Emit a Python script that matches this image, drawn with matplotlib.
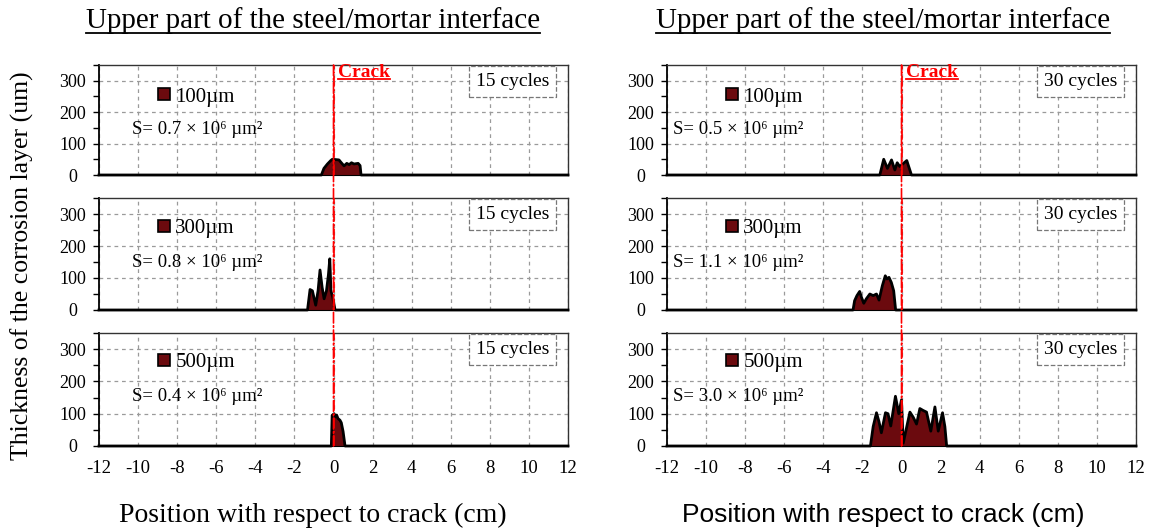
import matplotlib
matplotlib.use("Agg")
import matplotlib.pyplot as plt
from matplotlib.lines import Line2D
from matplotlib.patches import ConnectionPatch
from matplotlib.ticker import MultipleLocator

SERIF = ["Liberation Serif", "DejaVu Serif"]
plt.rcParams["font.family"] = SERIF
plt.rcParams["axes.unicode_minus"] = False

TITLE = "Upper part of the steel/mortar interface"
YLABEL = "Thickness of the corrosion layer (um)"
XLABEL = "Position with respect to crack (cm)"

CYCLES = ["15 cycles", "30 cycles"]
DEPTHS = ["100µm", "300µm", "500µm"]
AREAS = [["0.7", "0.8", "0.4"], ["0.5", "1.1", "3.0"]]

X_TICKS = list(range(-12, 13, 2))
Y_TICKS = [0, 100, 200, 300]

# ---- profiles (position cm, thickness um) ----
pos_15_100 = [-12, -0.62, -0.49, -0.31, -0.14, -0.06, 0.28, 0.40, 0.54, 0.68,
              0.80, 0.92, 1.05, 1.26, 1.36, 1.41, 12]
thk_15_100 = [0, 0, 21, 35, 46, 50, 48, 39, 29, 37, 33, 39, 35, 37, 30, 0, 0]

pos_15_300 = [-12, -1.33, -1.20, -1.08, -0.91, -0.79, -0.69, -0.58, -0.48,
              -0.36, -0.26, -0.19, -0.13, -0.04, 0.08, 12]
thk_15_300 = [0, 0, 64, 60, 15, 60, 125, 70, 35, 60, 110, 160, 60, 40, 0, 0]

pos_15_500 = [-12, -0.11, -0.07, 0.03, 0.11, 0.16, 0.23, 0.33, 0.40, 0.49,
              0.59, 12]
thk_15_500 = [0, 0, 95, 100, 90, 96, 85, 80, 72, 45, 0, 0]

pos_30_100 = [-12, -1.11, -0.91, -0.72, -0.51, -0.34, -0.22, -0.09, 0.27,
              0.51, 12]
thk_30_100 = [0, 0, 50, 21, 48, 16, 39, 27, 46, 0, 0]

pos_30_300 = [-12, -2.48, -2.40, -2.28, -2.14, -2.05, -1.93, -1.80, -1.62,
              -1.45, -1.28, -1.15, -0.98, -0.83, -0.74, -0.64, -0.52, -0.40,
              -0.30, 12]
thk_30_300 = [0, 0, 29, 45, 58, 40, 21, 35, 50, 45, 50, 31, 76, 107, 97,
              102, 86, 60, 0, 0]

pos_30_500 = [-12, -1.59, -1.45, -1.28, -1.15, -1.03, -0.82, -0.69, -0.55,
              -0.31, -0.14, 0.0, 0.09, 0.22, 0.43, 0.60, 0.77, 0.94, 1.11,
              1.28, 1.50, 1.71, 1.88, 2.10, 2.22, 2.31, 12]
thk_30_500 = [0, 0, 60, 103, 75, 41, 103, 100, 62, 154, 100, 143, 9, 46, 105,
              89, 68, 116, 110, 105, 46, 121, 46, 103, 60, 0, 0]

PROFILES = [
    [(pos_15_100, thk_15_100), (pos_15_300, thk_15_300), (pos_15_500, thk_15_500)],
    [(pos_30_100, thk_30_100), (pos_30_300, thk_30_300), (pos_30_500, thk_30_500)],
]

FILL = "#6b0a0e"
GRID = "#9a9a9a"

W, H = 1151, 532
COL_LEFT = [99, 667]
COL_WIDTH = 469
ROWS = [(65, 175), (198, 310), (333, 446)]
S_X = [0.07, 0.013]
S_Y = [0.41, 0.42, 0.44]
LEG_Y = [0.71, 0.73, 0.74]


def underline(fig, txt, color="black", lw=1.2, offset=0.0):
    fig.canvas.draw()
    bb = txt.get_window_extent().transformed(fig.transFigure.inverted())
    y = bb.y0 + offset
    fig.add_artist(Line2D([bb.x0, bb.x1], [y, y],
                          transform=fig.transFigure, color=color, lw=lw))


def main():
    fig = plt.figure(figsize=(W / 100, H / 100), dpi=100)

    for c in range(2):
        axes = []
        for r, (top, bot) in enumerate(ROWS):
            ax = fig.add_axes([COL_LEFT[c] / W, 1 - bot / H,
                               COL_WIDTH / W, (bot - top) / H])
            axes.append(ax)
            xs, ys = PROFILES[c][r]
            ax.fill_between(xs, ys, 0, color=FILL, lw=0, zorder=2)
            ax.plot(xs, ys, color="black", lw=2, zorder=3, clip_on=False)

            ax.set_xlim(-12, 12)
            ax.set_ylim(0, 350)
            ax.set_xticks(X_TICKS)
            ax.set_yticks(Y_TICKS)
            ax.yaxis.set_minor_locator(MultipleLocator(50))
            ax.grid(True, color=GRID, ls=(0, (3, 3)), lw=0.9, zorder=0)
            ax.tick_params(axis="y", labelsize=13, direction="out", length=4,
                           width=1, pad=15)
            ax.tick_params(axis="y", which="minor", direction="out",
                           length=4, width=1)
            ax.tick_params(axis="x", labelsize=13.5, length=0, pad=10)
            for lbl in ax.get_yticklabels():
                lbl.set_horizontalalignment("center")
            if r < 2:
                ax.tick_params(axis="x", labelbottom=False)
            for side in ["top", "right"]:
                ax.spines[side].set_color("#333333")
                ax.spines[side].set_linewidth(1)
            ax.spines["left"].set_linewidth(1.3)
            ax.spines["left"].set_color("black")

            ax.axvline(0, color="red", ls="-.", lw=1.2, zorder=4)

            ax.text(0.96, 0.93, CYCLES[c], transform=ax.transAxes,
                    ha="right", va="top", fontsize=14, zorder=5,
                    bbox=dict(boxstyle="square,pad=0.35", fc="white",
                              ec="#777777", ls="--", lw=0.9))

            handle = Line2D([], [], marker="s", ls="none", mfc=FILL,
                            mec="black", mew=1.2, ms=8)
            ax.legend([handle], [DEPTHS[r]], loc="center left",
                      bbox_to_anchor=(0.125, LEG_Y[r]), frameon=False,
                      handlelength=0.6, handletextpad=0.25, borderpad=0,
                      borderaxespad=0, fontsize=15)

            ax.text(S_X[c], S_Y[r], f"S= {AREAS[c][r]} × 10⁶ µm²",
                    transform=ax.transAxes, ha="left", va="center",
                    fontsize=13.5, family=SERIF)

        con = ConnectionPatch(xyA=(0, 350), coordsA=axes[0].transData,
                              xyB=(0, 0), coordsB=axes[2].transData,
                              color="red", ls="-.", lw=1.2, zorder=4)
        fig.add_artist(con)

        crack = axes[0].text(0.22, 326, "Crack", color="red",
                             fontweight="bold", fontsize=14,
                             ha="left", va="center", zorder=6)
        underline(fig, crack, color="red", lw=1.3, offset=0.004)

        cx = [0.272, 0.767][c]
        title = fig.text(cx, 0.962, TITLE, ha="center", va="center",
                         fontsize=21)
        underline(fig, title, lw=1.3, offset=0.002)

        if c == 0:
            fig.text(cx, 0.032, XLABEL, ha="center", va="center",
                     fontsize=20)
        else:
            fig.text(cx, 0.032, XLABEL, ha="center", va="center",
                     fontsize=19, family=["Liberation Sans", "DejaVu Sans"])

    fig.text(0.019, 0.5, YLABEL, rotation=90, ha="center", va="center",
             fontsize=18.5)

    fig.savefig("out.png", dpi=100)
    plt.close(fig)


if __name__ == "__main__":
    main()
